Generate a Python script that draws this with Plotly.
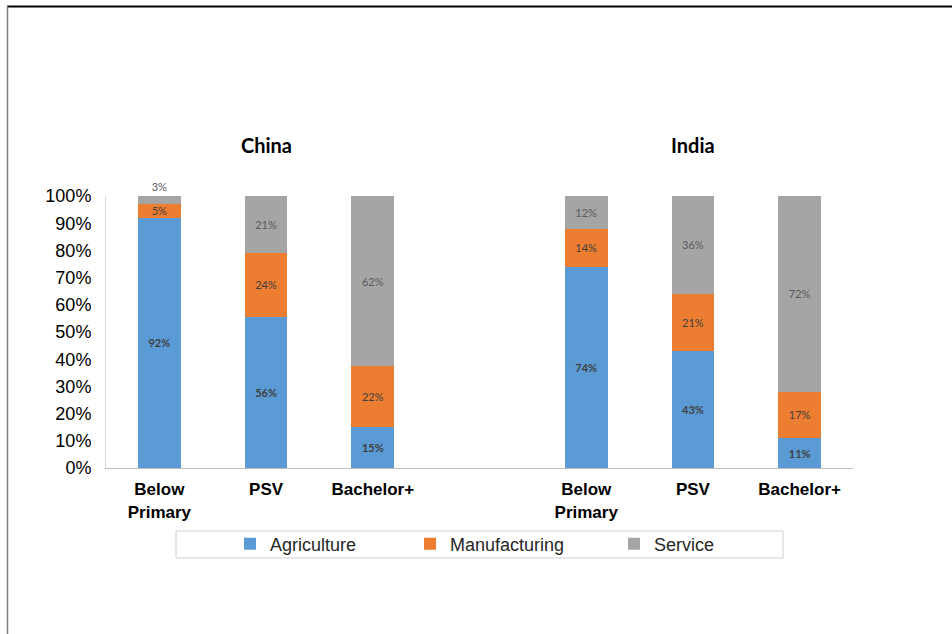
import plotly.graph_objects as go

# ---- data ----
countries = ["China", "India"]
levels = ["Below<br>Primary", "PSV", "Bachelor+"]
sectors = ["Agriculture", "Manufacturing", "Service"]
china_agri = [92, 56, 15]
china_manu = [5, 24, 22]
china_serv = [3, 21, 62]
india_agri = [74, 43, 11]
india_manu = [14, 21, 17]
india_serv = [12, 36, 72]

colors = ["#5B9BD5", "#ED7D31", "#A5A5A5"]

W, H = 952, 634
L, R, T, B = 106, 99, 196, 166
PW, PH = W - L - R, H - T - B


def px(x):
    return (x - L) / PW


def py(y):
    return (H - B - y) / PH


# positions: each country occupies a group of 3 slots, one empty slot between
group_size = len(levels) + 1
xpos = []
ticktext = []
for gi, c in enumerate(countries):
    for li, lv in enumerate(levels):
        xpos.append(gi * group_size + li)
        ticktext.append(lv)

series = {
    "Agriculture": china_agri + india_agri,
    "Manufacturing": china_manu + india_manu,
    "Service": china_serv + india_serv,
}

fig = go.Figure()
legend_names = ["legend", "legend2", "legend3"]
for si, name in enumerate(sectors):
    vals = series[name]
    if name == "Service":
        tpos = ["outside" if v < 5 else "inside" for v in vals]
    else:
        tpos = "inside"
    fig.add_trace(go.Bar(
        x=xpos, y=vals, name=name,
        marker=dict(color=colors[si], line=dict(width=0)),
        width=0.4,
        text=[f"{v}%" for v in vals],
        textposition=tpos,
        insidetextanchor="middle",
        textangle=0,
        constraintext="none",
        cliponaxis=False,
        textfont=dict(family="Lato", size=11,
                      color="#404040" if name != "Service" else "#595959",
                      weight="bold" if name == "Agriculture" else "normal"),
        outsidetextfont=dict(family="Lato", size=11, color="#595959"),
        legend=legend_names[si],
    ))

fig.update_layout(
    width=W, height=H,
    margin=dict(l=L, r=R, t=T, b=B),
    plot_bgcolor="white", paper_bgcolor="white",
    barmode="stack", barnorm="percent",
    bargap=0.6,
    showlegend=True,
    font=dict(family="Liberation Sans", color="#000000"),
)

fig.update_xaxes(
    range=[-0.5, len(countries) * group_size - 1.5],
    tickvals=xpos, ticktext=[f"<b>{t}</b>" for t in ticktext],
    tickfont=dict(family="Liberation Sans", size=17, color="#000000"),
    showline=True, linecolor="#bfbfbf", linewidth=1,
    showgrid=False, zeroline=False, ticks="",
    ticklabelstandoff=6,
)
fig.update_yaxes(
    range=[0, 100], dtick=10, ticksuffix="%",
    tickfont=dict(family="Liberation Sans", size=18, color="#000000"),
    showline=True, linecolor="#d9d9d9", linewidth=1,
    showgrid=False, zeroline=False, ticks="",
    ticklabelstandoff=10,
)

# group titles
for gi, c in enumerate(countries):
    fig.add_annotation(
        x=gi * group_size + (len(levels) - 1) / 2, xref="x",
        y=py(145), yref="paper", yanchor="middle",
        text=f"<b>{c}</b>", showarrow=False,
        font=dict(family="Lato", size=20, color="#000000"),
    )

# legends
leg_x = [230, 410, 614]
for i, ln in enumerate(legend_names):
    fig.update_layout(**{ln: dict(
        x=px(leg_x[i]), xanchor="left",
        y=py(544), yanchor="middle",
        orientation="h",
        font=dict(family="Liberation Sans", size=18, color="#262626"),
        bgcolor="rgba(0,0,0,0)", borderwidth=0,
        itemwidth=30,
    )})

# legend box
fig.add_shape(type="rect", xref="paper", yref="paper",
              x0=px(176), x1=px(783), y0=py(558), y1=py(531),
              line=dict(color="#d0d0d0", width=1), fillcolor="rgba(0,0,0,0)",
              layer="below")

# outer frame (top and left edges visible)
fig.add_shape(type="line", xref="paper", yref="paper",
              x0=px(7), x1=px(960), y0=py(6.5), y1=py(6.5),
              line=dict(color="#000000", width=2))
fig.add_shape(type="line", xref="paper", yref="paper",
              x0=px(7.5), x1=px(7.5), y0=py(6), y1=py(640),
              line=dict(color="#7f7f7f", width=1.5))

fig.write_html("out.html",
               config={"displayModeBar": False},
               post_script="document.body.style.margin='0px';document.body.style.overflow='hidden';")
